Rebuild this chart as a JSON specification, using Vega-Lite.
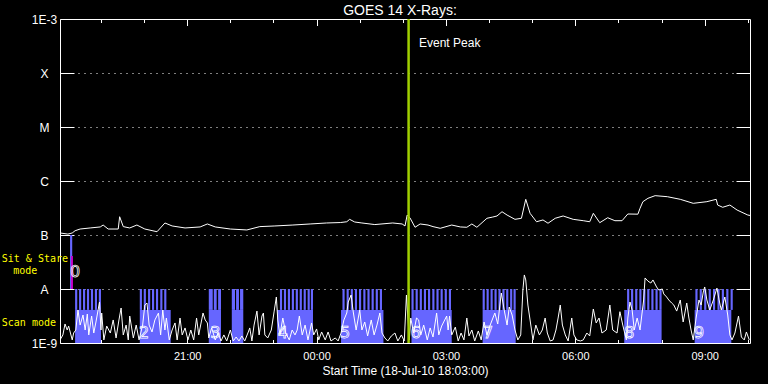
{
  "$schema": "https://vega.github.io/schema/vega-lite/v6.json",
  "width": 690,
  "height": 324,
  "autosize": "none",
  "padding": {"left": 60, "top": 19, "right": 18, "bottom": 41},
  "background": "black",
  "title": {"text": "GOES 14 X-Rays:", "color": "white", "font": "Liberation Sans", "fontSize": 14, "fontWeight": "normal", "anchor": "middle", "dx": -5, "dy": 10, "offset": 5},
  "config": {
    "view": {"stroke": "white", "strokeWidth": 1},
    "axis": {"domain": false, "grid": false, "tickColor": "white", "tickWidth": 1, "labelColor": "white", "labelFont": "Liberation Sans", "titleColor": "white", "titleFont": "Liberation Sans", "titleFontWeight": "normal"}
  },
  "datasets": {
    "bars": [
      {"t": "2010-07-18T18:24", "t2": "2010-07-18T19:00", "f": 1e-9, "f2": 4.1e-9, "kind": "scan"},
      {"t": "2010-07-18T19:54", "t2": "2010-07-18T20:37", "f": 1e-9, "f2": 4.1e-9, "kind": "scan"},
      {"t": "2010-07-18T21:30", "t2": "2010-07-18T21:47", "f": 1e-9, "f2": 4.1e-9, "kind": "scan"},
      {"t": "2010-07-18T22:02", "t2": "2010-07-18T22:18", "f": 1e-9, "f2": 4.1e-9, "kind": "scan"},
      {"t": "2010-07-18T23:05", "t2": "2010-07-18T23:55", "f": 1e-9, "f2": 4.1e-9, "kind": "scan"},
      {"t": "2010-07-19T00:34", "t2": "2010-07-19T01:33", "f": 1e-9, "f2": 4.1e-9, "kind": "scan"},
      {"t": "2010-07-19T02:12", "t2": "2010-07-19T03:08", "f": 1e-9, "f2": 4.1e-9, "kind": "scan"},
      {"t": "2010-07-19T03:51", "t2": "2010-07-19T04:37", "f": 1e-9, "f2": 4.1e-9, "kind": "scan"},
      {"t": "2010-07-19T07:08", "t2": "2010-07-19T08:00", "f": 1e-9, "f2": 4.1e-9, "kind": "scan"},
      {"t": "2010-07-19T08:46", "t2": "2010-07-19T09:37", "f": 1e-9, "f2": 4.1e-9, "kind": "scan"},
      {"t": "2010-07-18T18:24", "t2": "2010-07-18T18:27", "f": 4.1e-9, "f2": 1e-8, "kind": "scan"},
      {"t": "2010-07-18T18:29:30", "t2": "2010-07-18T18:32:30", "f": 4.1e-9, "f2": 1e-8, "kind": "scan"},
      {"t": "2010-07-18T18:35", "t2": "2010-07-18T18:38", "f": 4.1e-9, "f2": 1e-8, "kind": "scan"},
      {"t": "2010-07-18T18:40:30", "t2": "2010-07-18T18:43:30", "f": 4.1e-9, "f2": 1e-8, "kind": "scan"},
      {"t": "2010-07-18T18:46", "t2": "2010-07-18T18:49", "f": 4.1e-9, "f2": 1e-8, "kind": "scan"},
      {"t": "2010-07-18T18:51:30", "t2": "2010-07-18T18:54:30", "f": 4.1e-9, "f2": 1e-8, "kind": "scan"},
      {"t": "2010-07-18T18:57", "t2": "2010-07-18T19:00", "f": 4.1e-9, "f2": 1e-8, "kind": "scan"},
      {"t": "2010-07-18T19:54", "t2": "2010-07-18T19:57", "f": 4.1e-9, "f2": 1e-8, "kind": "scan"},
      {"t": "2010-07-18T19:59:30", "t2": "2010-07-18T20:02:30", "f": 4.1e-9, "f2": 1e-8, "kind": "scan"},
      {"t": "2010-07-18T20:05:30", "t2": "2010-07-18T20:08:30", "f": 4.1e-9, "f2": 1e-8, "kind": "scan"},
      {"t": "2010-07-18T20:11", "t2": "2010-07-18T20:14", "f": 4.1e-9, "f2": 1e-8, "kind": "scan"},
      {"t": "2010-07-18T20:16:30", "t2": "2010-07-18T20:19:30", "f": 4.1e-9, "f2": 1e-8, "kind": "scan"},
      {"t": "2010-07-18T20:22:30", "t2": "2010-07-18T20:25:30", "f": 4.1e-9, "f2": 1e-8, "kind": "scan"},
      {"t": "2010-07-18T20:28", "t2": "2010-07-18T20:31", "f": 4.1e-9, "f2": 1e-8, "kind": "scan"},
      {"t": "2010-07-18T21:30", "t2": "2010-07-18T21:35:30", "f": 4.1e-9, "f2": 1e-8, "kind": "scan"},
      {"t": "2010-07-18T21:37", "t2": "2010-07-18T21:41", "f": 4.1e-9, "f2": 1e-8, "kind": "scan"},
      {"t": "2010-07-18T21:43", "t2": "2010-07-18T21:47", "f": 4.1e-9, "f2": 1e-8, "kind": "scan"},
      {"t": "2010-07-18T22:02", "t2": "2010-07-18T22:06:30", "f": 4.1e-9, "f2": 1e-8, "kind": "scan"},
      {"t": "2010-07-18T22:08", "t2": "2010-07-18T22:12", "f": 4.1e-9, "f2": 1e-8, "kind": "scan"},
      {"t": "2010-07-18T22:13:30", "t2": "2010-07-18T22:18", "f": 4.1e-9, "f2": 1e-8, "kind": "scan"},
      {"t": "2010-07-18T23:09", "t2": "2010-07-18T23:12", "f": 4.1e-9, "f2": 1e-8, "kind": "scan"},
      {"t": "2010-07-18T23:14:30", "t2": "2010-07-18T23:17:30", "f": 4.1e-9, "f2": 1e-8, "kind": "scan"},
      {"t": "2010-07-18T23:20", "t2": "2010-07-18T23:23", "f": 4.1e-9, "f2": 1e-8, "kind": "scan"},
      {"t": "2010-07-18T23:25:30", "t2": "2010-07-18T23:28:30", "f": 4.1e-9, "f2": 1e-8, "kind": "scan"},
      {"t": "2010-07-18T23:31", "t2": "2010-07-18T23:34", "f": 4.1e-9, "f2": 1e-8, "kind": "scan"},
      {"t": "2010-07-18T23:36:30", "t2": "2010-07-18T23:39:30", "f": 4.1e-9, "f2": 1e-8, "kind": "scan"},
      {"t": "2010-07-18T23:42", "t2": "2010-07-18T23:45", "f": 4.1e-9, "f2": 1e-8, "kind": "scan"},
      {"t": "2010-07-18T23:47:30", "t2": "2010-07-18T23:50:30", "f": 4.1e-9, "f2": 1e-8, "kind": "scan"},
      {"t": "2010-07-18T23:52", "t2": "2010-07-18T23:55", "f": 4.1e-9, "f2": 1e-8, "kind": "scan"},
      {"t": "2010-07-19T00:36", "t2": "2010-07-19T00:39", "f": 4.1e-9, "f2": 1e-8, "kind": "scan"},
      {"t": "2010-07-19T00:41:45", "t2": "2010-07-19T00:44:45", "f": 4.1e-9, "f2": 1e-8, "kind": "scan"},
      {"t": "2010-07-19T00:47:30", "t2": "2010-07-19T00:50:30", "f": 4.1e-9, "f2": 1e-8, "kind": "scan"},
      {"t": "2010-07-19T00:53:15", "t2": "2010-07-19T00:56:15", "f": 4.1e-9, "f2": 1e-8, "kind": "scan"},
      {"t": "2010-07-19T00:59", "t2": "2010-07-19T01:02", "f": 4.1e-9, "f2": 1e-8, "kind": "scan"},
      {"t": "2010-07-19T01:05", "t2": "2010-07-19T01:08", "f": 4.1e-9, "f2": 1e-8, "kind": "scan"},
      {"t": "2010-07-19T01:10:45", "t2": "2010-07-19T01:13:45", "f": 4.1e-9, "f2": 1e-8, "kind": "scan"},
      {"t": "2010-07-19T01:16:30", "t2": "2010-07-19T01:19:30", "f": 4.1e-9, "f2": 1e-8, "kind": "scan"},
      {"t": "2010-07-19T01:22:15", "t2": "2010-07-19T01:25:15", "f": 4.1e-9, "f2": 1e-8, "kind": "scan"},
      {"t": "2010-07-19T01:28", "t2": "2010-07-19T01:31", "f": 4.1e-9, "f2": 1e-8, "kind": "scan"},
      {"t": "2010-07-19T02:12", "t2": "2010-07-19T02:15", "f": 4.1e-9, "f2": 1e-8, "kind": "scan"},
      {"t": "2010-07-19T02:17:45", "t2": "2010-07-19T02:20:45", "f": 4.1e-9, "f2": 1e-8, "kind": "scan"},
      {"t": "2010-07-19T02:23:30", "t2": "2010-07-19T02:26:30", "f": 4.1e-9, "f2": 1e-8, "kind": "scan"},
      {"t": "2010-07-19T02:29:15", "t2": "2010-07-19T02:32:15", "f": 4.1e-9, "f2": 1e-8, "kind": "scan"},
      {"t": "2010-07-19T02:35", "t2": "2010-07-19T02:38", "f": 4.1e-9, "f2": 1e-8, "kind": "scan"},
      {"t": "2010-07-19T02:41", "t2": "2010-07-19T02:44", "f": 4.1e-9, "f2": 1e-8, "kind": "scan"},
      {"t": "2010-07-19T02:46:45", "t2": "2010-07-19T02:49:45", "f": 4.1e-9, "f2": 1e-8, "kind": "scan"},
      {"t": "2010-07-19T02:52:30", "t2": "2010-07-19T02:55:30", "f": 4.1e-9, "f2": 1e-8, "kind": "scan"},
      {"t": "2010-07-19T02:58:15", "t2": "2010-07-19T03:01:15", "f": 4.1e-9, "f2": 1e-8, "kind": "scan"},
      {"t": "2010-07-19T03:04", "t2": "2010-07-19T03:07", "f": 4.1e-9, "f2": 1e-8, "kind": "scan"},
      {"t": "2010-07-19T03:51", "t2": "2010-07-19T03:54", "f": 4.1e-9, "f2": 1e-8, "kind": "scan"},
      {"t": "2010-07-19T03:56:30", "t2": "2010-07-19T03:59:30", "f": 4.1e-9, "f2": 1e-8, "kind": "scan"},
      {"t": "2010-07-19T04:02", "t2": "2010-07-19T04:05", "f": 4.1e-9, "f2": 1e-8, "kind": "scan"},
      {"t": "2010-07-19T04:07:30", "t2": "2010-07-19T04:10:30", "f": 4.1e-9, "f2": 1e-8, "kind": "scan"},
      {"t": "2010-07-19T04:13", "t2": "2010-07-19T04:16", "f": 4.1e-9, "f2": 1e-8, "kind": "scan"},
      {"t": "2010-07-19T04:18:30", "t2": "2010-07-19T04:21:30", "f": 4.1e-9, "f2": 1e-8, "kind": "scan"},
      {"t": "2010-07-19T04:23:45", "t2": "2010-07-19T04:26:45", "f": 4.1e-9, "f2": 1e-8, "kind": "scan"},
      {"t": "2010-07-19T04:29:15", "t2": "2010-07-19T04:32:15", "f": 4.1e-9, "f2": 1e-8, "kind": "scan"},
      {"t": "2010-07-19T04:34", "t2": "2010-07-19T04:37", "f": 4.1e-9, "f2": 1e-8, "kind": "scan"},
      {"t": "2010-07-19T07:12", "t2": "2010-07-19T07:15", "f": 4.1e-9, "f2": 1e-8, "kind": "scan"},
      {"t": "2010-07-19T07:17:30", "t2": "2010-07-19T07:20:30", "f": 4.1e-9, "f2": 1e-8, "kind": "scan"},
      {"t": "2010-07-19T07:23:15", "t2": "2010-07-19T07:26:15", "f": 4.1e-9, "f2": 1e-8, "kind": "scan"},
      {"t": "2010-07-19T07:29", "t2": "2010-07-19T07:32", "f": 4.1e-9, "f2": 1e-8, "kind": "scan"},
      {"t": "2010-07-19T07:34:30", "t2": "2010-07-19T07:37:30", "f": 4.1e-9, "f2": 1e-8, "kind": "scan"},
      {"t": "2010-07-19T07:40", "t2": "2010-07-19T07:43", "f": 4.1e-9, "f2": 1e-8, "kind": "scan"},
      {"t": "2010-07-19T07:45:45", "t2": "2010-07-19T07:48:45", "f": 4.1e-9, "f2": 1e-8, "kind": "scan"},
      {"t": "2010-07-19T07:51:30", "t2": "2010-07-19T07:54:30", "f": 4.1e-9, "f2": 1e-8, "kind": "scan"},
      {"t": "2010-07-19T07:57", "t2": "2010-07-19T08:00", "f": 4.1e-9, "f2": 1e-8, "kind": "scan"},
      {"t": "2010-07-19T08:47", "t2": "2010-07-19T08:50", "f": 4.1e-9, "f2": 1e-8, "kind": "scan"},
      {"t": "2010-07-19T08:53", "t2": "2010-07-19T08:56", "f": 4.1e-9, "f2": 1e-8, "kind": "scan"},
      {"t": "2010-07-19T08:59:15", "t2": "2010-07-19T09:02:15", "f": 4.1e-9, "f2": 1e-8, "kind": "scan"},
      {"t": "2010-07-19T09:05:30", "t2": "2010-07-19T09:08:30", "f": 4.1e-9, "f2": 1e-8, "kind": "scan"},
      {"t": "2010-07-19T09:11:30", "t2": "2010-07-19T09:14:30", "f": 4.1e-9, "f2": 1e-8, "kind": "scan"},
      {"t": "2010-07-19T09:17:45", "t2": "2010-07-19T09:20:45", "f": 4.1e-9, "f2": 1e-8, "kind": "scan"},
      {"t": "2010-07-19T09:23:45", "t2": "2010-07-19T09:26:45", "f": 4.1e-9, "f2": 1e-8, "kind": "scan"},
      {"t": "2010-07-19T09:30", "t2": "2010-07-19T09:33", "f": 4.1e-9, "f2": 1e-8, "kind": "scan"},
      {"t": "2010-07-19T09:36", "t2": "2010-07-19T09:39", "f": 4.1e-9, "f2": 1e-8, "kind": "scan"},
      {"t": "2010-07-18T18:17", "t2": "2010-07-18T18:20", "f": 1e-8, "f2": 1e-7, "kind": "sit"},
      {"t": "2010-07-18T18:18:20", "t2": "2010-07-18T18:21", "f": 1e-8, "f2": 4.1e-8, "kind": "sit2"}
    ],
    "goes": [
      {"t": "2010-07-18T18:03", "f": 1.09e-7}, {"t": "2010-07-18T18:14", "f": 1.04e-7}, {"t": "2010-07-18T18:20", "f": 1.09e-7},
      {"t": "2010-07-18T18:24", "f": 1.2e-7}, {"t": "2010-07-18T18:31", "f": 1.29e-7}, {"t": "2010-07-18T18:45", "f": 1.35e-7},
      {"t": "2010-07-18T18:59", "f": 1.41e-7}, {"t": "2010-07-18T19:03", "f": 1.53e-7}, {"t": "2010-07-18T19:10", "f": 1.29e-7},
      {"t": "2010-07-18T19:24", "f": 1.29e-7}, {"t": "2010-07-18T19:26", "f": 2.18e-7}, {"t": "2010-07-18T19:31", "f": 1.43e-7},
      {"t": "2010-07-18T19:40", "f": 1.35e-7}, {"t": "2010-07-18T19:50", "f": 1.53e-7}, {"t": "2010-07-18T20:01", "f": 1.29e-7},
      {"t": "2010-07-18T20:18", "f": 1.15e-7}, {"t": "2010-07-18T20:29", "f": 1.67e-7}, {"t": "2010-07-18T20:39", "f": 1.47e-7},
      {"t": "2010-07-18T20:57", "f": 1.35e-7}, {"t": "2010-07-18T21:18", "f": 1.41e-7}, {"t": "2010-07-18T21:28", "f": 1.6e-7},
      {"t": "2010-07-18T21:39", "f": 1.41e-7}, {"t": "2010-07-18T22:00", "f": 1.29e-7}, {"t": "2010-07-18T22:23", "f": 1.24e-7},
      {"t": "2010-07-18T22:41", "f": 1.43e-7}, {"t": "2010-07-18T23:02", "f": 1.47e-7}, {"t": "2010-07-18T23:27", "f": 1.53e-7},
      {"t": "2010-07-18T23:51", "f": 1.6e-7}, {"t": "2010-07-19T00:14", "f": 1.67e-7}, {"t": "2010-07-19T00:33", "f": 1.7e-7},
      {"t": "2010-07-19T00:42", "f": 1.76e-7}, {"t": "2010-07-19T00:46", "f": 1.95e-7}, {"t": "2010-07-19T00:53", "f": 1.74e-7},
      {"t": "2010-07-19T01:03", "f": 1.67e-7}, {"t": "2010-07-19T01:21", "f": 1.56e-7}, {"t": "2010-07-19T01:46", "f": 1.67e-7},
      {"t": "2010-07-19T01:59", "f": 1.6e-7}, {"t": "2010-07-19T02:03", "f": 1.47e-7}, {"t": "2010-07-19T02:06", "f": 2.34e-7},
      {"t": "2010-07-19T02:10", "f": 2.07e-7}, {"t": "2010-07-19T02:17", "f": 1.39e-7}, {"t": "2010-07-19T02:24", "f": 1.6e-7},
      {"t": "2010-07-19T02:35", "f": 1.53e-7}, {"t": "2010-07-19T02:42", "f": 1.43e-7}, {"t": "2010-07-19T02:52", "f": 1.33e-7},
      {"t": "2010-07-19T03:08", "f": 1.53e-7}, {"t": "2010-07-19T03:20", "f": 1.41e-7}, {"t": "2010-07-19T03:29", "f": 1.39e-7},
      {"t": "2010-07-19T03:36", "f": 1.6e-7}, {"t": "2010-07-19T03:43", "f": 1.39e-7}, {"t": "2010-07-19T03:57", "f": 2.04e-7},
      {"t": "2010-07-19T04:05", "f": 2.15e-7}, {"t": "2010-07-19T04:11", "f": 2.25e-7}, {"t": "2010-07-19T04:18", "f": 2.7e-7},
      {"t": "2010-07-19T04:25", "f": 2.34e-7}, {"t": "2010-07-19T04:36", "f": 1.95e-7}, {"t": "2010-07-19T04:45", "f": 2.04e-7},
      {"t": "2010-07-19T04:51", "f": 4.58e-7}, {"t": "2010-07-19T04:57", "f": 2.52e-7}, {"t": "2010-07-19T05:06", "f": 1.76e-7},
      {"t": "2010-07-19T05:15", "f": 1.9e-7}, {"t": "2010-07-19T05:22", "f": 1.65e-7}, {"t": "2010-07-19T05:32", "f": 2.04e-7},
      {"t": "2010-07-19T05:43", "f": 2.25e-7}, {"t": "2010-07-19T05:57", "f": 1.95e-7}, {"t": "2010-07-19T06:11", "f": 1.84e-7},
      {"t": "2010-07-19T06:20", "f": 1.76e-7}, {"t": "2010-07-19T06:25", "f": 2.52e-7}, {"t": "2010-07-19T06:34", "f": 1.69e-7},
      {"t": "2010-07-19T06:45", "f": 2.09e-7}, {"t": "2010-07-19T06:55", "f": 1.84e-7}, {"t": "2010-07-19T07:05", "f": 1.84e-7},
      {"t": "2010-07-19T07:13", "f": 2.45e-7}, {"t": "2010-07-19T07:27", "f": 2.43e-7}, {"t": "2010-07-19T07:30", "f": 3.12e-7},
      {"t": "2010-07-19T07:34", "f": 4.14e-7}, {"t": "2010-07-19T07:41", "f": 4.78e-7}, {"t": "2010-07-19T07:51", "f": 5.35e-7},
      {"t": "2010-07-19T08:08", "f": 5.12e-7}, {"t": "2010-07-19T08:26", "f": 4.58e-7}, {"t": "2010-07-19T08:44", "f": 3.86e-7},
      {"t": "2010-07-19T09:03", "f": 4.14e-7}, {"t": "2010-07-19T09:16", "f": 4.58e-7}, {"t": "2010-07-19T09:18", "f": 3.59e-7},
      {"t": "2010-07-19T09:25", "f": 3.26e-7}, {"t": "2010-07-19T09:35", "f": 3.59e-7}, {"t": "2010-07-19T09:45", "f": 2.9e-7},
      {"t": "2010-07-19T10:00", "f": 2.34e-7}, {"t": "2010-07-19T10:03", "f": 2.3e-7}
    ],
    "low": [
      {"t": "2010-07-18T18:03", "f": 1.14e-9}, {"t": "2010-07-18T18:07", "f": 1.41e-9}, {"t": "2010-07-18T18:10", "f": 2.25e-9},
      {"t": "2010-07-18T18:13", "f": 1.74e-9}, {"t": "2010-07-18T18:15", "f": 2.06e-9}, {"t": "2010-07-18T18:20", "f": 1.14e-9},
      {"t": "2010-07-18T18:22", "f": 1.53e-9}, {"t": "2010-07-18T18:25", "f": 1.74e-9}, {"t": "2010-07-18T18:28", "f": 4.08e-9},
      {"t": "2010-07-18T18:31", "f": 2.15e-9}, {"t": "2010-07-18T18:35", "f": 3.3e-9}, {"t": "2010-07-18T18:38", "f": 1.74e-9},
      {"t": "2010-07-18T18:41", "f": 3.44e-9}, {"t": "2010-07-18T18:43", "f": 1.41e-9}, {"t": "2010-07-18T18:47", "f": 3.16e-9},
      {"t": "2010-07-18T18:50", "f": 1.53e-9}, {"t": "2010-07-18T18:53", "f": 2.45e-9}, {"t": "2010-07-18T18:58", "f": 5.74e-9},
      {"t": "2010-07-18T19:00", "f": 1.74e-9}, {"t": "2010-07-18T19:01", "f": 3.59e-9}, {"t": "2010-07-18T19:04", "f": 1.14e-9},
      {"t": "2010-07-18T19:08", "f": 2.06e-9}, {"t": "2010-07-18T19:13", "f": 1.53e-9}, {"t": "2010-07-18T19:17", "f": 2.67e-9},
      {"t": "2010-07-18T19:21", "f": 1.24e-9}, {"t": "2010-07-18T19:25", "f": 2.67e-9}, {"t": "2010-07-18T19:28", "f": 4.45e-9},
      {"t": "2010-07-18T19:31", "f": 1.41e-9}, {"t": "2010-07-18T19:35", "f": 2.15e-9}, {"t": "2010-07-18T19:38", "f": 1.14e-9},
      {"t": "2010-07-18T19:40", "f": 3.16e-9}, {"t": "2010-07-18T19:45", "f": 1.24e-9}, {"t": "2010-07-18T19:49", "f": 2.15e-9},
      {"t": "2010-07-18T19:53", "f": 1.14e-9}, {"t": "2010-07-18T19:58", "f": 2.15e-9}, {"t": "2010-07-18T20:01", "f": 5.05e-9},
      {"t": "2010-07-18T20:04", "f": 5.5e-9}, {"t": "2010-07-18T20:07", "f": 2.15e-9}, {"t": "2010-07-18T20:11", "f": 1.6e-9},
      {"t": "2010-07-18T20:15", "f": 2.67e-9}, {"t": "2010-07-18T20:20", "f": 3.59e-9}, {"t": "2010-07-18T20:23", "f": 1.41e-9},
      {"t": "2010-07-18T20:26", "f": 4.08e-9}, {"t": "2010-07-18T20:29", "f": 1.74e-9}, {"t": "2010-07-18T20:31", "f": 2.9e-9},
      {"t": "2010-07-18T20:35", "f": 1.14e-9}, {"t": "2010-07-18T20:39", "f": 1.74e-9}, {"t": "2010-07-18T20:43", "f": 2.35e-9},
      {"t": "2010-07-18T20:46", "f": 1.14e-9}, {"t": "2010-07-18T20:50", "f": 2.9e-9}, {"t": "2010-07-18T20:53", "f": 1.41e-9},
      {"t": "2010-07-18T20:57", "f": 1.9e-9}, {"t": "2010-07-18T21:01", "f": 1.14e-9}, {"t": "2010-07-18T21:05", "f": 1.74e-9},
      {"t": "2010-07-18T21:09", "f": 1.14e-9}, {"t": "2010-07-18T21:13", "f": 2.9e-9}, {"t": "2010-07-18T21:16", "f": 1.41e-9},
      {"t": "2010-07-18T21:22", "f": 3.59e-9}, {"t": "2010-07-18T21:25", "f": 2.67e-9}, {"t": "2010-07-18T21:28", "f": 2.35e-9},
      {"t": "2010-07-18T21:30", "f": 1.24e-9}, {"t": "2010-07-18T21:34", "f": 1.9e-9}, {"t": "2010-07-18T21:39", "f": 1.14e-9},
      {"t": "2010-07-18T21:43", "f": 1.53e-9}, {"t": "2010-07-18T21:47", "f": 1.09e-9}, {"t": "2010-07-18T21:51", "f": 1.41e-9},
      {"t": "2010-07-18T21:55", "f": 1.09e-9}, {"t": "2010-07-18T22:00", "f": 1.74e-9}, {"t": "2010-07-18T22:04", "f": 1.09e-9},
      {"t": "2010-07-18T22:08", "f": 1.29e-9}, {"t": "2010-07-18T22:12", "f": 1.09e-9}, {"t": "2010-07-18T22:16", "f": 1.35e-9},
      {"t": "2010-07-18T22:20", "f": 1.09e-9}, {"t": "2010-07-18T22:25", "f": 1.6e-9}, {"t": "2010-07-18T22:27", "f": 1.9e-9},
      {"t": "2010-07-18T22:30", "f": 1.09e-9}, {"t": "2010-07-18T22:33", "f": 2.15e-9}, {"t": "2010-07-18T22:37", "f": 3.9e-9},
      {"t": "2010-07-18T22:40", "f": 1.41e-9}, {"t": "2010-07-18T22:44", "f": 3.16e-9}, {"t": "2010-07-18T22:46", "f": 3.59e-9},
      {"t": "2010-07-18T22:48", "f": 1.41e-9}, {"t": "2010-07-18T22:52", "f": 1.24e-9}, {"t": "2010-07-18T22:57", "f": 1.74e-9},
      {"t": "2010-07-18T23:01", "f": 3.9e-9}, {"t": "2010-07-18T23:04", "f": 7.11e-9}, {"t": "2010-07-18T23:06", "f": 2.67e-9},
      {"t": "2010-07-18T23:09", "f": 1.41e-9}, {"t": "2010-07-18T23:13", "f": 2.9e-9}, {"t": "2010-07-18T23:17", "f": 1.53e-9},
      {"t": "2010-07-18T23:22", "f": 1.14e-9}, {"t": "2010-07-18T23:26", "f": 1.74e-9}, {"t": "2010-07-18T23:30", "f": 1.41e-9},
      {"t": "2010-07-18T23:33", "f": 1.74e-9}, {"t": "2010-07-18T23:36", "f": 3.16e-9}, {"t": "2010-07-18T23:40", "f": 1.41e-9},
      {"t": "2010-07-18T23:44", "f": 2.15e-9}, {"t": "2010-07-18T23:48", "f": 1.14e-9}, {"t": "2010-07-18T23:53", "f": 2.35e-9},
      {"t": "2010-07-18T23:56", "f": 1.41e-9}, {"t": "2010-07-19T00:00", "f": 1.82e-9}, {"t": "2010-07-19T00:03", "f": 1.14e-9},
      {"t": "2010-07-19T00:07", "f": 1.6e-9}, {"t": "2010-07-19T00:12", "f": 1.14e-9}, {"t": "2010-07-19T00:16", "f": 1.6e-9},
      {"t": "2010-07-19T00:20", "f": 1.09e-9}, {"t": "2010-07-19T00:26", "f": 1.24e-9}, {"t": "2010-07-19T00:30", "f": 1.09e-9},
      {"t": "2010-07-19T00:34", "f": 1.53e-9}, {"t": "2010-07-19T00:38", "f": 2.67e-9}, {"t": "2010-07-19T00:42", "f": 3.59e-9},
      {"t": "2010-07-19T00:44", "f": 5.74e-9}, {"t": "2010-07-19T00:48", "f": 7.74e-9}, {"t": "2010-07-19T00:51", "f": 3.75e-9},
      {"t": "2010-07-19T00:55", "f": 1.74e-9}, {"t": "2010-07-19T00:58", "f": 2.9e-9}, {"t": "2010-07-19T01:00", "f": 4.08e-9},
      {"t": "2010-07-19T01:03", "f": 1.74e-9}, {"t": "2010-07-19T01:07", "f": 2.45e-9}, {"t": "2010-07-19T01:11", "f": 1.35e-9},
      {"t": "2010-07-19T01:16", "f": 2.67e-9}, {"t": "2010-07-19T01:20", "f": 1.41e-9}, {"t": "2010-07-19T01:24", "f": 2.15e-9},
      {"t": "2010-07-19T01:28", "f": 3.59e-9}, {"t": "2010-07-19T01:31", "f": 1.53e-9}, {"t": "2010-07-19T01:35", "f": 1.24e-9},
      {"t": "2010-07-19T01:39", "f": 1.09e-9}, {"t": "2010-07-19T01:44", "f": 1.35e-9}, {"t": "2010-07-19T01:49", "f": 1.53e-9},
      {"t": "2010-07-19T01:53", "f": 1.09e-9}, {"t": "2010-07-19T01:58", "f": 1.41e-9}, {"t": "2010-07-19T02:02", "f": 1.09e-9},
      {"t": "2010-07-19T02:05", "f": 7.74e-9}, {"t": "2010-07-19T02:09", "f": 1.14e-9}, {"t": "2010-07-19T02:11", "f": 2.9e-9},
      {"t": "2010-07-19T02:15", "f": 1.53e-9}, {"t": "2010-07-19T02:19", "f": 2.9e-9}, {"t": "2010-07-19T02:22", "f": 2.67e-9},
      {"t": "2010-07-19T02:25", "f": 1.41e-9}, {"t": "2010-07-19T02:29", "f": 2.15e-9}, {"t": "2010-07-19T02:34", "f": 1.14e-9},
      {"t": "2010-07-19T02:38", "f": 1.9e-9}, {"t": "2010-07-19T02:42", "f": 1.29e-9}, {"t": "2010-07-19T02:47", "f": 3.59e-9},
      {"t": "2010-07-19T02:50", "f": 1.41e-9}, {"t": "2010-07-19T02:54", "f": 2.06e-9}, {"t": "2010-07-19T03:01", "f": 3.16e-9},
      {"t": "2010-07-19T03:03", "f": 1.74e-9}, {"t": "2010-07-19T03:05", "f": 3.16e-9}, {"t": "2010-07-19T03:08", "f": 1.41e-9},
      {"t": "2010-07-19T03:13", "f": 1.97e-9}, {"t": "2010-07-19T03:17", "f": 1.09e-9}, {"t": "2010-07-19T03:21", "f": 1.53e-9},
      {"t": "2010-07-19T03:25", "f": 1.14e-9}, {"t": "2010-07-19T03:29", "f": 2.9e-9}, {"t": "2010-07-19T03:32", "f": 1.35e-9},
      {"t": "2010-07-19T03:36", "f": 1.74e-9}, {"t": "2010-07-19T03:40", "f": 1.09e-9}, {"t": "2010-07-19T03:45", "f": 1.67e-9},
      {"t": "2010-07-19T03:49", "f": 1.14e-9}, {"t": "2010-07-19T03:53", "f": 2.45e-9}, {"t": "2010-07-19T03:57", "f": 1.41e-9},
      {"t": "2010-07-19T04:01", "f": 2.06e-9}, {"t": "2010-07-19T04:08", "f": 3.59e-9}, {"t": "2010-07-19T04:12", "f": 2.25e-9},
      {"t": "2010-07-19T04:17", "f": 8.43e-9}, {"t": "2010-07-19T04:21", "f": 4.08e-9}, {"t": "2010-07-19T04:25", "f": 2.15e-9},
      {"t": "2010-07-19T04:28", "f": 4.64e-9}, {"t": "2010-07-19T04:32", "f": 3.3e-9}, {"t": "2010-07-19T04:36", "f": 1.74e-9},
      {"t": "2010-07-19T04:40", "f": 1.14e-9}, {"t": "2010-07-19T04:44", "f": 1.41e-9}, {"t": "2010-07-19T04:47", "f": 9.58e-9},
      {"t": "2010-07-19T04:49", "f": 1.82e-8}, {"t": "2010-07-19T04:51", "f": 1.47e-8}, {"t": "2010-07-19T04:54", "f": 5.05e-9},
      {"t": "2010-07-19T04:57", "f": 2.67e-9}, {"t": "2010-07-19T05:01", "f": 1.14e-9}, {"t": "2010-07-19T05:05", "f": 2.15e-9},
      {"t": "2010-07-19T05:10", "f": 1.41e-9}, {"t": "2010-07-19T05:14", "f": 1.74e-9}, {"t": "2010-07-19T05:18", "f": 2.9e-9},
      {"t": "2010-07-19T05:21", "f": 1.53e-9}, {"t": "2010-07-19T05:25", "f": 1.09e-9}, {"t": "2010-07-19T05:29", "f": 1.14e-9},
      {"t": "2010-07-19T05:33", "f": 1.74e-9}, {"t": "2010-07-19T05:36", "f": 2.9e-9}, {"t": "2010-07-19T05:39", "f": 5.05e-9},
      {"t": "2010-07-19T05:42", "f": 2.15e-9}, {"t": "2010-07-19T05:46", "f": 1.41e-9}, {"t": "2010-07-19T05:50", "f": 1.09e-9},
      {"t": "2010-07-19T05:55", "f": 2.9e-9}, {"t": "2010-07-19T05:58", "f": 1.41e-9}, {"t": "2010-07-19T06:02", "f": 1.14e-9},
      {"t": "2010-07-19T06:07", "f": 1.09e-9}, {"t": "2010-07-19T06:11", "f": 1.14e-9}, {"t": "2010-07-19T06:16", "f": 1.53e-9},
      {"t": "2010-07-19T06:20", "f": 1.35e-9}, {"t": "2010-07-19T06:25", "f": 4.26e-9}, {"t": "2010-07-19T06:29", "f": 2.35e-9},
      {"t": "2010-07-19T06:33", "f": 2.9e-9}, {"t": "2010-07-19T06:37", "f": 1.53e-9}, {"t": "2010-07-19T06:43", "f": 1.74e-9},
      {"t": "2010-07-19T06:48", "f": 5.05e-9}, {"t": "2010-07-19T06:52", "f": 1.74e-9}, {"t": "2010-07-19T06:58", "f": 1.53e-9},
      {"t": "2010-07-19T07:02", "f": 3.8e-9}, {"t": "2010-07-19T07:06", "f": 2.15e-9}, {"t": "2010-07-19T07:11", "f": 1.14e-9},
      {"t": "2010-07-19T07:13", "f": 2.9e-9}, {"t": "2010-07-19T07:16", "f": 5.74e-9}, {"t": "2010-07-19T07:19", "f": 4.08e-9},
      {"t": "2010-07-19T07:22", "f": 1.74e-9}, {"t": "2010-07-19T07:26", "f": 2.9e-9}, {"t": "2010-07-19T07:30", "f": 1.74e-9},
      {"t": "2010-07-19T07:35", "f": 6.26e-9}, {"t": "2010-07-19T07:37", "f": 1.6e-8}, {"t": "2010-07-19T07:41", "f": 1.4e-8},
      {"t": "2010-07-19T07:45", "f": 1.29e-8}, {"t": "2010-07-19T07:48", "f": 1.47e-8}, {"t": "2010-07-19T07:53", "f": 1.09e-8},
      {"t": "2010-07-19T07:56", "f": 9.58e-9}, {"t": "2010-07-19T08:01", "f": 1.0e-8}, {"t": "2010-07-19T08:03", "f": 8.1e-9},
      {"t": "2010-07-19T08:07", "f": 7.11e-9}, {"t": "2010-07-19T08:10", "f": 6.26e-9}, {"t": "2010-07-19T08:14", "f": 5.5e-9},
      {"t": "2010-07-19T08:17", "f": 5.05e-9}, {"t": "2010-07-19T08:21", "f": 3.9e-9}, {"t": "2010-07-19T08:26", "f": 6.26e-9},
      {"t": "2010-07-19T08:30", "f": 2.45e-9}, {"t": "2010-07-19T08:35", "f": 5.5e-9}, {"t": "2010-07-19T08:38", "f": 2.9e-9},
      {"t": "2010-07-19T08:41", "f": 1.74e-9}, {"t": "2010-07-19T08:44", "f": 1.14e-9}, {"t": "2010-07-19T08:48", "f": 2.9e-9},
      {"t": "2010-07-19T08:52", "f": 6.26e-9}, {"t": "2010-07-19T08:55", "f": 5.05e-9}, {"t": "2010-07-19T08:58", "f": 8.8e-9},
      {"t": "2010-07-19T09:00", "f": 1.09e-8}, {"t": "2010-07-19T09:03", "f": 6.26e-9}, {"t": "2010-07-19T09:07", "f": 4.08e-9},
      {"t": "2010-07-19T09:12", "f": 6.26e-9}, {"t": "2010-07-19T09:17", "f": 1.04e-8}, {"t": "2010-07-19T09:20", "f": 6.26e-9},
      {"t": "2010-07-19T09:23", "f": 4.08e-9}, {"t": "2010-07-19T09:28", "f": 7.11e-9}, {"t": "2010-07-19T09:32", "f": 3.3e-9},
      {"t": "2010-07-19T09:35", "f": 1.41e-9}, {"t": "2010-07-19T09:38", "f": 1.14e-9}, {"t": "2010-07-19T09:42", "f": 1.53e-9},
      {"t": "2010-07-19T09:47", "f": 3.16e-9}, {"t": "2010-07-19T09:51", "f": 1.29e-9}, {"t": "2010-07-19T09:55", "f": 1.14e-9},
      {"t": "2010-07-19T09:58", "f": 1.6e-9}, {"t": "2010-07-19T10:02", "f": 1.14e-9}
    ]
  },
  "layer": [
    {
      "data": {"name": "bars"},
      "mark": {"type": "rect", "strokeWidth": 0},
      "encoding": {
        "x": {"field": "t", "type": "temporal",
          "scale": {"domain": [{"year": 2010, "month": 7, "date": 18, "hours": 18, "minutes": 3}, {"year": 2010, "month": 7, "date": 19, "hours": 10, "minutes": 3}]},
          "axis": {"orient": "bottom",
            "values": [{"year": 2010, "month": 7, "date": 18, "hours": 21}, {"year": 2010, "month": 7, "date": 19, "hours": 0}, {"year": 2010, "month": 7, "date": 19, "hours": 3}, {"year": 2010, "month": 7, "date": 19, "hours": 6}, {"year": 2010, "month": 7, "date": 19, "hours": 9}],
            "format": "%H:%M", "offset": -6.5, "tickSize": 6.5, "labelPadding": 13.5, "labelBaseline": "middle", "labelFontSize": 11, "labelFlush": false, "labelOverlap": false,
            "title": "Start Time (18-Jul-10 18:03:00)", "titleFontSize": 12, "titlePadding": 4}},
        "x2": {"field": "t2"},
        "y": {"field": "f", "type": "quantitative",
          "scale": {"type": "log", "domain": [1e-9, 1e-3], "nice": false},
          "axis": {"orient": "left", "values": [1e-9, 1e-8, 1e-7, 1e-6, 1e-5, 1e-4, 1e-3], "labelExpr": "datum.value < 3e-9 ? '1E-9' : datum.value < 3e-8 ? 'A' : datum.value < 3e-7 ? 'B' : datum.value < 3e-6 ? 'C' : datum.value < 3e-5 ? 'M' : datum.value < 3e-4 ? 'X' : '1E-3'",
            "offset": -14, "tickSize": 14, "labelPadding": 16, "labelAlign": "center", "labelBaseline": "middle", "labelFontSize": 12, "title": null}},
        "y2": {"field": "f2"},
        "color": {"field": "kind", "type": "nominal", "scale": {"domain": ["scan", "sit", "sit2"], "range": ["#6666ff", "#6666ff", "#c800c8"]}, "legend": null}
      }
    },
    {
      "data": {"name": "low"},
      "mark": {"type": "line", "color": "white", "strokeWidth": 1, "clip": true},
      "encoding": {
        "x": {"field": "t", "type": "temporal",
          "scale": {"domain": [{"year": 2010, "month": 7, "date": 18, "hours": 18, "minutes": 3}, {"year": 2010, "month": 7, "date": 19, "hours": 10, "minutes": 3}]},
          "axis": {"orient": "top",
            "values": [{"year": 2010, "month": 7, "date": 18, "hours": 19}, {"year": 2010, "month": 7, "date": 18, "hours": 20}, {"year": 2010, "month": 7, "date": 18, "hours": 21}, {"year": 2010, "month": 7, "date": 18, "hours": 22}, {"year": 2010, "month": 7, "date": 18, "hours": 23}, {"year": 2010, "month": 7, "date": 19, "hours": 0}, {"year": 2010, "month": 7, "date": 19, "hours": 1}, {"year": 2010, "month": 7, "date": 19, "hours": 2}, {"year": 2010, "month": 7, "date": 19, "hours": 3}, {"year": 2010, "month": 7, "date": 19, "hours": 4}, {"year": 2010, "month": 7, "date": 19, "hours": 5}, {"year": 2010, "month": 7, "date": 19, "hours": 6}, {"year": 2010, "month": 7, "date": 19, "hours": 7}, {"year": 2010, "month": 7, "date": 19, "hours": 8}, {"year": 2010, "month": 7, "date": 19, "hours": 9}, {"year": 2010, "month": 7, "date": 19, "hours": 10}],
            "offset": -3.5, "tickSize": 3.5, "labels": false, "title": null}},
        "y": {"field": "f", "type": "quantitative",
          "scale": {"type": "log", "domain": [1e-9, 1e-3], "nice": false},
          "axis": {"orient": "right", "values": [1e-8, 1e-7, 1e-6, 1e-5, 1e-4], "offset": -14, "tickSize": 14, "labels": false, "title": null}}
      }
    },
    {
      "data": {"name": "goes"},
      "mark": {"type": "line", "color": "white", "strokeWidth": 1, "clip": true},
      "encoding": {
        "x": {"field": "t", "type": "temporal",
          "scale": {"domain": [{"year": 2010, "month": 7, "date": 18, "hours": 18, "minutes": 3}, {"year": 2010, "month": 7, "date": 19, "hours": 10, "minutes": 3}]},
          "axis": {"orient": "top",
            "values": [{"year": 2010, "month": 7, "date": 18, "hours": 21}, {"year": 2010, "month": 7, "date": 19, "hours": 0}, {"year": 2010, "month": 7, "date": 19, "hours": 3}, {"year": 2010, "month": 7, "date": 19, "hours": 6}, {"year": 2010, "month": 7, "date": 19, "hours": 9}],
            "offset": -6.5, "tickSize": 6.5, "labels": false, "title": null}},
        "y": {"field": "f", "type": "quantitative",
          "scale": {"type": "log", "domain": [1e-9, 1e-3], "nice": false},
          "axis": {"orient": "left", "values": [1e-8, 1e-7, 1e-6, 1e-5, 1e-4], "grid": true, "gridColor": "white", "gridDash": [1, 5], "gridWidth": 1, "ticks": false, "labels": false, "title": null}}
      }
    },
    {
      "data": {"values": [{"t": "2010-07-19T02:08", "label": "Event Peak"}]},
      "mark": {"type": "rule", "color": "#a0d000", "strokeWidth": 2.5},
      "encoding": {
        "x": {"field": "t", "type": "temporal",
          "scale": {"domain": [{"year": 2010, "month": 7, "date": 18, "hours": 18, "minutes": 3}, {"year": 2010, "month": 7, "date": 19, "hours": 10, "minutes": 3}]},
          "axis": {"orient": "bottom",
            "values": [{"year": 2010, "month": 7, "date": 18, "hours": 19}, {"year": 2010, "month": 7, "date": 18, "hours": 20}, {"year": 2010, "month": 7, "date": 18, "hours": 21}, {"year": 2010, "month": 7, "date": 18, "hours": 22}, {"year": 2010, "month": 7, "date": 18, "hours": 23}, {"year": 2010, "month": 7, "date": 19, "hours": 0}, {"year": 2010, "month": 7, "date": 19, "hours": 1}, {"year": 2010, "month": 7, "date": 19, "hours": 2}, {"year": 2010, "month": 7, "date": 19, "hours": 3}, {"year": 2010, "month": 7, "date": 19, "hours": 4}, {"year": 2010, "month": 7, "date": 19, "hours": 5}, {"year": 2010, "month": 7, "date": 19, "hours": 6}, {"year": 2010, "month": 7, "date": 19, "hours": 7}, {"year": 2010, "month": 7, "date": 19, "hours": 8}, {"year": 2010, "month": 7, "date": 19, "hours": 9}, {"year": 2010, "month": 7, "date": 19, "hours": 10}],
            "offset": -3.5, "tickSize": 3.5, "labels": false, "title": null}}
      }
    },
    {
      "data": {"values": [{"t": "2010-07-19T02:22:30", "f": 3.6e-4, "label": "Event Peak"}]},
      "mark": {"type": "text", "color": "white", "font": "Liberation Sans", "fontSize": 12, "align": "left", "baseline": "middle"},
      "encoding": {
        "x": {"field": "t", "type": "temporal", "scale": {"domain": [{"year": 2010, "month": 7, "date": 18, "hours": 18, "minutes": 3}, {"year": 2010, "month": 7, "date": 19, "hours": 10, "minutes": 3}]}, "axis": null},
        "y": {"field": "f", "type": "quantitative", "scale": {"type": "log", "domain": [1e-9, 1e-3], "nice": false}, "axis": null},
        "text": {"field": "label"}
      }
    },
    {
      "data": {"values": [
        {"t": "2010-07-18T18:24", "f": 2.06e-8, "label": "0"},
        {"t": "2010-07-18T20:00", "f": 1.5e-9, "label": "2"},
        {"t": "2010-07-18T21:39", "f": 1.5e-9, "label": "3"},
        {"t": "2010-07-18T23:13", "f": 1.5e-9, "label": "4"},
        {"t": "2010-07-19T00:39:30", "f": 1.5e-9, "label": "5"},
        {"t": "2010-07-19T02:18", "f": 1.5e-9, "label": "6"},
        {"t": "2010-07-19T03:58:30", "f": 1.5e-9, "label": "7"},
        {"t": "2010-07-19T07:15", "f": 1.5e-9, "label": "8"},
        {"t": "2010-07-19T08:52", "f": 1.5e-9, "label": "9"}
      ]},
      "mark": {"type": "text", "fill": "transparent", "stroke": "white", "strokeWidth": 0.75, "font": "DejaVu Sans", "fontSize": 16, "align": "center", "baseline": "middle"},
      "encoding": {
        "x": {"field": "t", "type": "temporal", "scale": {"domain": [{"year": 2010, "month": 7, "date": 18, "hours": 18, "minutes": 3}, {"year": 2010, "month": 7, "date": 19, "hours": 10, "minutes": 3}]}, "axis": null},
        "y": {"field": "f", "type": "quantitative", "scale": {"type": "log", "domain": [1e-9, 1e-3], "nice": false}, "axis": null},
        "text": {"field": "label"}
      }
    },
    {
      "data": {"values": [
        {"t": "2010-07-18T16:42", "f": 3.6e-8, "label": "Sit & Stare"},
        {"t": "2010-07-18T16:58", "f": 2.15e-8, "label": "mode"},
        {"t": "2010-07-18T16:42", "f": 2.35e-9, "label": "Scan mode"}
      ]},
      "mark": {"type": "text", "color": "#ffff00", "font": "DejaVu Sans Mono", "fontSize": 10, "align": "left", "baseline": "middle"},
      "encoding": {
        "x": {"field": "t", "type": "temporal", "scale": {"domain": [{"year": 2010, "month": 7, "date": 18, "hours": 18, "minutes": 3}, {"year": 2010, "month": 7, "date": 19, "hours": 10, "minutes": 3}]}, "axis": null},
        "y": {"field": "f", "type": "quantitative", "scale": {"type": "log", "domain": [1e-9, 1e-3], "nice": false}, "axis": null},
        "text": {"field": "label"}
      }
    }
  ],
  "resolve": {"axis": {"x": "independent", "y": "independent"}}
}
